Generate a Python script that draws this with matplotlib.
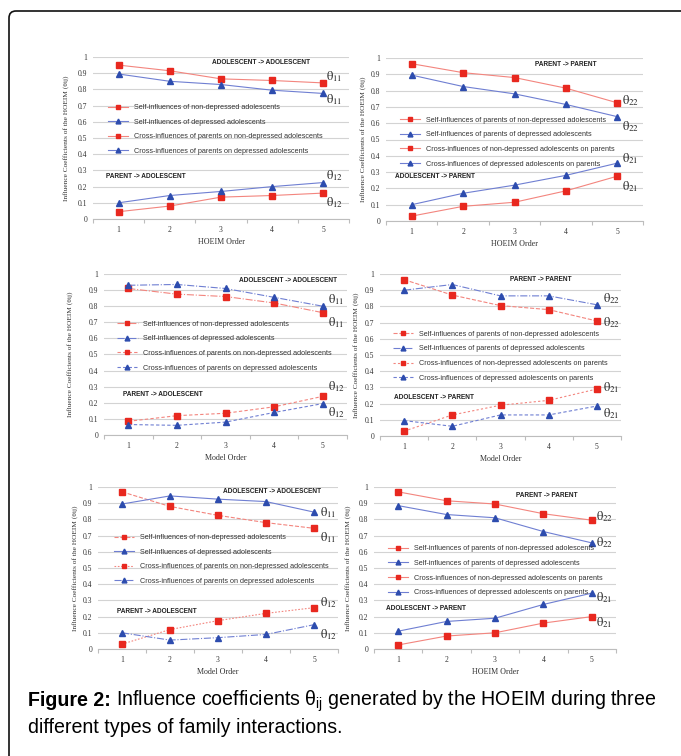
import matplotlib
matplotlib.use('Agg')
import matplotlib.pyplot as plt
from matplotlib import font_manager
from matplotlib.path import Path
from matplotlib.patches import PathPatch

# ---- data ----
orders = [1, 2, 3, 4, 5]

# row 1, HOEIM order
aa1_self_nondep = [0.95, 0.915, 0.865, 0.855, 0.84]
aa1_self_dep = [0.895, 0.85, 0.83, 0.795, 0.775]
aa1_cross_nondep = [0.045, 0.08, 0.135, 0.145, 0.16]
aa1_cross_dep = [0.10, 0.145, 0.17, 0.20, 0.225]

pp1_self_nondep = [0.965, 0.91, 0.88, 0.815, 0.725]
pp1_self_dep = [0.895, 0.825, 0.78, 0.715, 0.64]
pp1_cross_nondep = [0.03, 0.09, 0.115, 0.185, 0.275]
pp1_cross_dep = [0.10, 0.17, 0.22, 0.28, 0.355]

# row 2, model order
aa2_self_nondep = [0.91, 0.875, 0.86, 0.82, 0.76]
aa2_self_dep = [0.93, 0.935, 0.91, 0.855, 0.80]
aa2_cross_nondep = [0.085, 0.12, 0.135, 0.175, 0.24]
aa2_cross_dep = [0.065, 0.06, 0.08, 0.14, 0.195]

pp2_self_nondep = [0.965, 0.87, 0.805, 0.78, 0.71]
pp2_self_dep = [0.90, 0.935, 0.865, 0.865, 0.81]
pp2_cross_nondep = [0.03, 0.13, 0.19, 0.22, 0.29]
pp2_cross_dep = [0.095, 0.06, 0.13, 0.13, 0.185]

# row 3
aa3_self_nondep = [0.97, 0.88, 0.825, 0.78, 0.745]
aa3_self_dep = [0.895, 0.945, 0.925, 0.91, 0.845]
aa3_cross_nondep = [0.03, 0.12, 0.175, 0.22, 0.255]
aa3_cross_dep = [0.10, 0.055, 0.07, 0.09, 0.15]

pp3_self_nondep = [0.97, 0.915, 0.895, 0.835, 0.795]
pp3_self_dep = [0.885, 0.83, 0.81, 0.725, 0.655]
pp3_cross_nondep = [0.025, 0.08, 0.10, 0.16, 0.20]
pp3_cross_dep = [0.11, 0.17, 0.19, 0.275, 0.345]

adol_labels = ['Self-influences of non-depressed adolescents',
               'Self-influences of depressed adolescents',
               'Cross-influences of parents on non-depressed adolescents',
               'Cross-influences of parents on depressed adolescents']
par_labels = ['Self-influences of parents of non-depressed adolescents',
              'Self-influences of parents of depressed adolescents',
              'Cross-influences of non-depressed adolescents on parents',
              'Cross-influences of depressed adolescents on parents']

caption_bold = 'Figure 2:'
caption_rest = r'Influence coefficients $\mathrm{\theta_{ij}}$ generated by the HOEIM during three'
caption_line2 = 'different types of family interactions.'

# ---- styling ----
W, H = 681, 756
names = {f.name for f in font_manager.fontManager.ttflist}
SANS = 'Liberation Sans Narrow' if 'Liberation Sans Narrow' in names else 'Liberation Sans'
SERIF = 'Liberation Serif'
plt.rcParams['mathtext.fontset'] = 'custom'
plt.rcParams['mathtext.rm'] = 'Liberation Sans'
plt.rcParams['mathtext.it'] = 'Liberation Sans:italic'

RED_LINE, RED_MK = '#f3857e', '#e8281f'
BLUE_LINE, BLUE_MK = '#6f7fd2', '#2d4cae'


def box(left, right, top, bottom):
    return [left / W, 1 - bottom / H, (right - left) / W, (bottom - top) / H]


panels = [
    dict(rect=box(93, 349, 57, 219), xlabel='HOEIM Order', ylab_x=66,
         data=(aa1_self_nondep, aa1_self_dep, aa1_cross_nondep, aa1_cross_dep),
         ls=('-', '-', '-', '-'), labels=adol_labels,
         top=('ADOLESCENT -> ADOLESCENT', 3.78, 0.963), bot=('PARENT -> ADOLESCENT', 0.76, 0.26),
         th=[('11', 0.877), ('11', 0.74), ('12', 0.27), ('12', 0.10)], th_x=5.06, leg=(0.058, 0.71)),
    dict(rect=box(386, 643, 58, 221), xlabel='HOEIM Order', ylab_x=363,
         data=(pp1_self_nondep, pp1_self_dep, pp1_cross_nondep, pp1_cross_dep),
         ls=('-', '-', '-', '-'), labels=par_labels,
         top=('PARENT -> PARENT', 3.99, 0.963), bot=('ADOLESCENT -> PARENT', 0.67, 0.27),
         th=[('22', 0.74), ('22', 0.577), ('21', 0.385), ('21', 0.21)], th_x=5.1, leg=(0.055, 0.64)),
    dict(rect=box(104, 347, 274, 435), xlabel='Model Order', ylab_x=70,
         data=(aa2_self_nondep, aa2_self_dep, aa2_cross_nondep, aa2_cross_dep),
         ls=('-.', '-.', (0, (3, 2)), (0, (3, 2))), labels=adol_labels,
         top=('ADOLESCENT -> ADOLESCENT', 4.29, 0.957), bot=('PARENT -> ADOLESCENT', 0.9, 0.25),
         th=[('11', 0.84), ('11', 0.70), ('12', 0.30), ('12', 0.137)], th_x=5.11, leg=(0.055, 0.71)),
    dict(rect=box(380, 621, 274, 436), xlabel='Model Order', ylab_x=356,
         data=(pp2_self_nondep, pp2_self_dep, pp2_cross_nondep, pp2_cross_dep),
         ls=('--', '-.', (0, (2, 2)), (0, (3, 2))), labels=par_labels,
         top=('PARENT -> PARENT', 3.84, 0.963), bot=('ADOLESCENT -> PARENT', 0.79, 0.235),
         th=[('22', 0.85), ('22', 0.70), ('21', 0.30), ('21', 0.14)], th_x=5.12, leg=(0.055, 0.65)),
    dict(rect=box(98, 338, 487, 649), xlabel='Model Order', ylab_x=75,
         data=(aa3_self_nondep, aa3_self_dep, aa3_cross_nondep, aa3_cross_dep),
         ls=('--', '-', (0, (1.5, 1.5)), '-.'), labels=adol_labels,
         top=('ADOLESCENT -> ADOLESCENT', 4.12, 0.975), bot=('PARENT -> ADOLESCENT', 0.9, 0.23),
         th=[('11', 0.84), ('11', 0.685), ('12', 0.285), ('12', 0.09)], th_x=5.12, leg=(0.065, 0.71)),
    dict(rect=box(374, 616, 487, 649), xlabel='HOEIM Order', ylab_x=348,
         data=(pp3_self_nondep, pp3_self_dep, pp3_cross_nondep, pp3_cross_dep),
         ls=('-', '-', '-', '-'), labels=par_labels,
         top=('PARENT -> PARENT', 4.07, 0.95), bot=('ADOLESCENT -> PARENT', 0.75, 0.25),
         th=[('22', 0.815), ('22', 0.655), ('21', 0.32), ('21', 0.16)], th_x=5.08, leg=(0.058, 0.64)),
]

fig = plt.figure(figsize=(W / 100, H / 100), dpi=100)

for p in panels:
    ax = fig.add_axes(p['rect'])
    colors = [(RED_LINE, RED_MK, 's'), (BLUE_LINE, BLUE_MK, '^'),
              (RED_LINE, RED_MK, 's'), (BLUE_LINE, BLUE_MK, '^')]
    for vals, (lc, mc, mk), ls, lab in zip(p['data'], colors, p['ls'], p['labels']):
        ax.plot(orders, vals, color=lc, linestyle=ls, linewidth=0.8, marker=mk,
                markersize=4.1, markerfacecolor=mc, markeredgecolor=mc,
                label=lab, clip_on=False, zorder=3)
    ax.set_xlim(0.5, 5.5)
    ax.set_ylim(0, 1)
    ax.set_yticks([i / 10 for i in range(11)])
    ax.set_yticklabels(['0', '0.1', '0.2', '0.3', '0.4', '0.5', '0.6', '0.7', '0.8', '0.9', '1'])
    ax.set_xticks(orders)
    ax.set_xticks([0.5, 1.5, 2.5, 3.5, 4.5, 5.5], minor=True)
    ax.grid(axis='y', color='#d3d3d3', linewidth=0.8)
    ax.set_axisbelow(True)
    for s in ('top', 'right', 'left'):
        ax.spines[s].set_visible(False)
    ax.spines['bottom'].set_color('#bdbdbd')
    ax.spines['bottom'].set_linewidth(0.8)
    ax.tick_params(axis='y', length=0, pad=4, labelsize=5.5, labelcolor='#333333')
    ax.tick_params(axis='x', which='major', length=0, pad=5, labelsize=5.5, labelcolor='#333333')
    ax.tick_params(axis='x', which='minor', length=3, color='#bdbdbd', width=0.8)
    for lab in ax.get_xticklabels() + ax.get_yticklabels():
        lab.set_family(SERIF)
    ax.set_xlabel(p['xlabel'], family=SERIF, fontsize=5.8, color='#333333', labelpad=3)

    # in-plot group headers
    txt, x, y = p['top']
    ax.text(x, y, txt, ha='center', va='center', family=SANS, weight='bold', fontsize=4.7, color='#222222')
    txt, x, y = p['bot']
    ax.text(x, y, txt, ha='left', va='center', family=SANS, weight='bold', fontsize=4.7, color='#222222')

    for sub, y in p['th']:
        ax.text(p['th_x'], y, r'$\mathrm{\theta}_{%s}$' % sub, ha='left', va='center',
                fontsize=9, math_fontfamily='stix', color='#222222')

    leg = ax.legend(loc='upper left', bbox_to_anchor=p['leg'], frameon=False, numpoints=1,
                    prop={'family': SANS, 'size': 5.2}, handlelength=2.8, handletextpad=0.8,
                    labelspacing=1.05, borderpad=0, borderaxespad=0, markerscale=0.85)
    for t in leg.get_texts():
        t.set_color('#333333')

    b = p['rect']
    fig.text(p['ylab_x'] / W, b[1] + b[3] / 2, 'Influence Coefficients of the HOEIM (θij)',
             rotation=90, ha='center', va='center', family=SERIF, fontsize=5.3, color='#333333')

# frame: top and left edges with a rounded corner
x0, y0, r = 9 / W, 1 - 11 / H, 7
verts = [(x0, 0), (x0, y0 - r / H), (x0, y0), (x0 + r / W, y0), (1, y0)]
codes = [Path.MOVETO, Path.LINETO, Path.CURVE3, Path.CURVE3, Path.LINETO]
fig.add_artist(PathPatch(Path(verts, codes), transform=fig.transFigure,
                         facecolor='none', edgecolor='#111111', linewidth=1.2))

# caption
t1 = fig.text(28 / W, 1 - 706 / H, caption_bold, family='Liberation Sans', weight='bold',
              fontsize=14.1, va='baseline')
fig.canvas.draw()
bb = t1.get_window_extent(fig.canvas.get_renderer())
fig.text(bb.x1 / W + 5 / W, 1 - 706 / H, caption_rest, family='Liberation Sans',
         fontsize=14.1, va='baseline')
fig.text(28 / W, 1 - 733 / H, caption_line2, family='Liberation Sans', fontsize=14.1, va='baseline')

fig.savefig('out.png', dpi=100)
